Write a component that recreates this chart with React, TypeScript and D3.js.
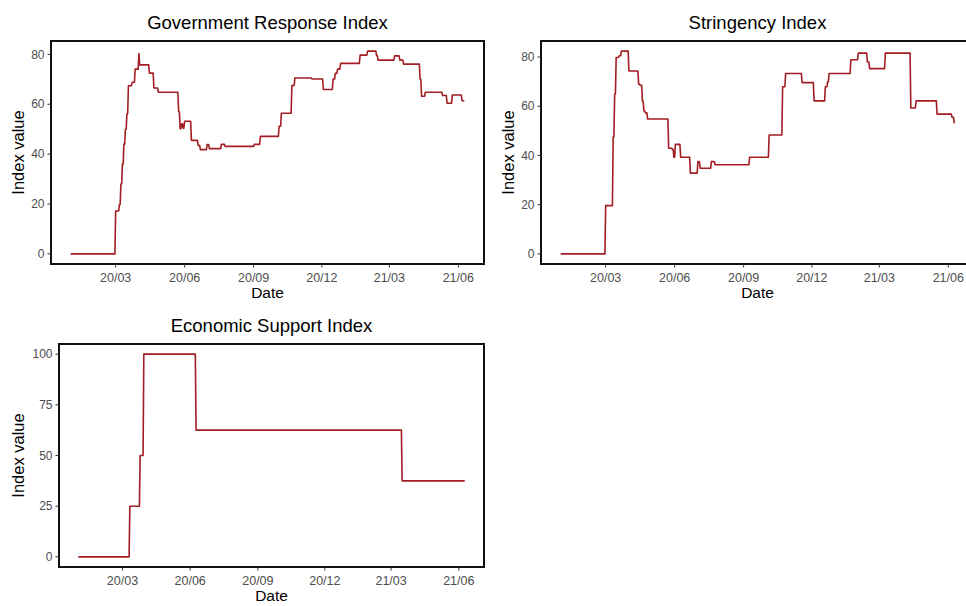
import React from 'react';
import * as d3 from 'd3';

// daily index values, stored as change points (value holds until next date)
const START = '2020-01-01';
const END = '2021-06-09';

const griDates = [
  '2020-01-01', '2020-03-01', '2020-03-06', '2020-03-08', '2020-03-10', '2020-03-12', '2020-03-14',
  '2020-03-16', '2020-03-18', '2020-03-23', '2020-03-27', '2020-04-01', '2020-04-02', '2020-04-15',
  '2020-04-21', '2020-04-27', '2020-05-24', '2020-05-26', '2020-05-28', '2020-05-30', '2020-06-01',
  '2020-06-10', '2020-06-19', '2020-06-22', '2020-07-01', '2020-07-04', '2020-07-20', '2020-07-25',
  '2020-09-02', '2020-09-10', '2020-10-05', '2020-10-08', '2020-10-22', '2020-10-26', '2020-11-18',
  '2020-12-03', '2020-12-16', '2020-12-19', '2020-12-22', '2020-12-26', '2021-01-21', '2021-01-31',
  '2021-02-12', '2021-02-14', '2021-03-08', '2021-03-15', '2021-03-20', '2021-04-11', '2021-04-13',
  '2021-04-18', '2021-05-11', '2021-05-17', '2021-05-24', '2021-06-06'
];
const griValues = [
  0, 17.2, 19.8, 28, 36, 44, 50,
  56.2, 67.4, 68.8, 74.1, 80.3, 75.8, 72.5,
  66.5, 64.8, 57, 50.2, 52.2, 50.4, 53.2,
  45.5, 43.5, 41.8, 43.8, 42.2, 43.9, 43.1,
  43.9, 47.1, 51.2, 56.4, 67.5, 70.5, 70.1,
  65.9, 70.1, 72.4, 74.1, 76.4, 79.7, 81.3,
  79.5, 77.7, 79.4, 77.7, 76.1, 70, 63.2,
  64.8, 63.5, 60.4, 63.7, 61.4
];

const siDates = [
  '2020-01-01', '2020-03-01', '2020-03-11', '2020-03-13', '2020-03-15', '2020-03-19', '2020-03-22',
  '2020-04-01', '2020-04-14', '2020-04-16', '2020-04-19', '2020-04-21', '2020-04-23', '2020-04-26',
  '2020-05-24', '2020-05-29', '2020-05-31', '2020-06-02', '2020-06-09', '2020-06-22', '2020-07-02',
  '2020-07-05', '2020-07-20', '2020-07-25', '2020-09-09', '2020-10-05', '2020-10-23', '2020-10-27',
  '2020-11-18', '2020-12-04', '2020-12-19', '2020-12-22', '2020-12-24', '2021-01-22', '2021-02-01',
  '2021-02-13', '2021-02-16', '2021-03-09', '2021-04-12', '2021-04-19', '2021-05-17', '2021-06-06',
  '2021-06-09'
];
const siValues = [
  0, 19.6, 47.6, 65, 79.8, 80.5, 82.4,
  74.3, 69, 68.5, 62, 58.1, 57.3, 54.8,
  42.9, 42.5, 39.3, 44.5, 39.3, 32.8, 37.5,
  34.8, 37.5, 36.2, 39.3, 48.3, 67.9, 73.3,
  69.6, 62.2, 67.9, 69.9, 73.3, 78.9, 81.6,
  78, 75.3, 81.6, 59.3, 62.2, 56.8, 55.5,
  53
];

const esiDates = ['2020-01-01', '2020-03-11', '2020-03-25', '2020-03-30', '2020-06-09', '2021-03-16'];
const esiValues = [0, 25, 50, 100, 62.5, 37.5];

const xTickDates = ['2020-03-01', '2020-06-01', '2020-09-01', '2020-12-01', '2021-03-01', '2021-06-01'];
const indexTicks = [0, 20, 40, 60, 80];
const econTicks = [0, 25, 50, 75, 100];

const parse = d3.timeParse('%Y-%m-%d');
const fmt = d3.timeFormat('%y/%m');
const FONT = '"Liberation Sans", Arial, Helvetica, sans-serif';
const LINE = '#A31D24';

function stepPoints(dates: string[], values: number[]) {
  const pts: [Date, number][] = [];
  dates.forEach((s, i) => {
    const d = parse(s) as Date;
    if (i > 0) {
      const prev = d3.timeDay.offset(d, -1);
      if (prev > pts[pts.length - 1][0]) pts.push([prev, values[i - 1]]);
    }
    pts.push([d, values[i]]);
  });
  const end = parse(END) as Date;
  if (end > pts[pts.length - 1][0]) pts.push([end, values[values.length - 1]]);
  return pts;
}

type PanelProps = {
  left: number; top: number; width: number; height: number;
  title: string; dates: string[]; values: number[]; yTicks: number[]; yTitleX: number;
};

function Panel(props: PanelProps) {
  const { left, top, width, height, title, dates, values, yTicks, yTitleX } = props;
  const t0 = (parse(START) as Date).getTime();
  const t1 = (parse(END) as Date).getTime();
  const pad = (t1 - t0) * 0.05;
  const x = d3.scaleTime().domain([new Date(t0 - pad), new Date(t1 + pad)]).range([left, left + width]);
  const vmax = d3.max(values) as number;
  const y = d3.scaleLinear().domain([-vmax * 0.05, vmax * 1.05]).range([top + height, top]);
  const pts = stepPoints(dates, values);
  const line = d3.line<[Date, number]>().x(d => x(d[0])).y(d => y(d[1]));
  const bottom = top + height;
  const cx = left + width / 2;

  return (
    <g>
      <text x={cx} y={top - 12} textAnchor="middle" fontSize={18.5} fill="#000" fontFamily={FONT}>{title}</text>
      <path d={line(pts) || ''} fill="none" stroke={LINE} strokeWidth={1.6} strokeLinejoin="round" />
      <rect x={left} y={top} width={width} height={height} fill="none" stroke="#111" strokeWidth={2} />
      {yTicks.map(v => (
        <g key={v}>
          <line x1={left - 3.5} x2={left} y1={y(v)} y2={y(v)} stroke="#333" strokeWidth={1} />
          <text x={left - 6.5} y={y(v)} dy="0.35em" textAnchor="end" fontSize={12} fill="#4D4D4D" fontFamily={FONT}>{v}</text>
        </g>
      ))}
      {xTickDates.map(s => {
        const d = parse(s) as Date;
        return (
          <g key={s}>
            <line x1={x(d)} x2={x(d)} y1={bottom} y2={bottom + 3.5} stroke="#333" strokeWidth={1} />
            <text x={x(d)} y={bottom + 17.5} textAnchor="middle" fontSize={12.5} fill="#4D4D4D" fontFamily={FONT}>{fmt(d)}</text>
          </g>
        );
      })}
      <text x={cx} y={bottom + 34} textAnchor="middle" fontSize={15.5} fill="#000" fontFamily={FONT}>Date</text>
      <text transform={`translate(${yTitleX},${top + height / 2}) rotate(-90)`} textAnchor="middle" fontSize={16.5} fill="#000" fontFamily={FONT}>Index value</text>
    </g>
  );
}

export default function App() {
  return (
    <svg width={966} height={606} style={{ position: 'absolute', left: 0, top: 0, background: '#fff' }}>
      <rect width={966} height={606} fill="#fff" />
      <Panel left={51} top={41} width={433} height={223} title="Government Response Index"
        dates={griDates} values={griValues} yTicks={indexTicks} yTitleX={24} />
      <Panel left={541} top={41} width={433} height={223} title="Stringency Index"
        dates={siDates} values={siValues} yTicks={indexTicks} yTitleX={514} />
      <Panel left={59} top={344} width={425} height={223} title="Economic Support Index"
        dates={esiDates} values={esiValues} yTicks={econTicks} yTitleX={24} />
    </svg>
  );
}
